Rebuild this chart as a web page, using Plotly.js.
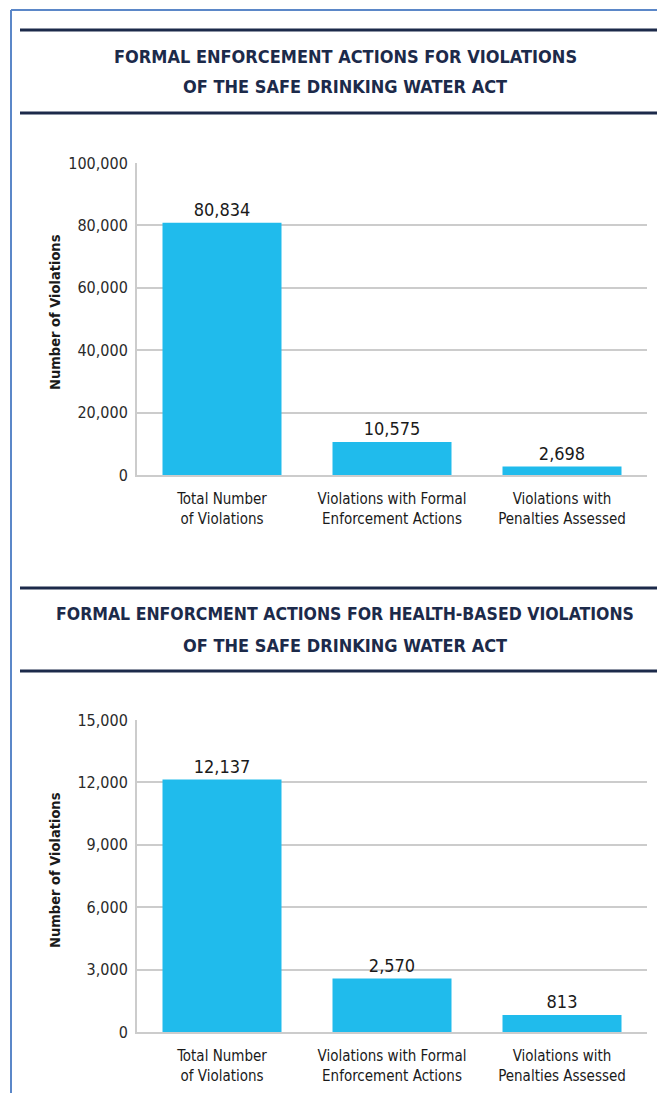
<!DOCTYPE html>
<html><head><meta charset="utf-8">
<script src="https://cdn.plot.ly/plotly-3.0.1.min.js"></script>
<style>html,body{margin:0;padding:0;background:#fff}#c{width:657px;height:1093px}</style>
</head><body><div id="c"></div>
<script>
const categories = ["Total Number<br>of Violations", "Violations with Formal<br>Enforcement Actions", "Violations with<br>Penalties Assessed"];
const allValues = [80834, 10575, 2698];
const healthValues = [12137, 2570, 813];
const allTicks = [0, 20000, 40000, 60000, 80000, 100000];
const healthTicks = [0, 3000, 6000, 9000, 12000, 15000];
const title1 = ["FORMAL ENFORCEMENT ACTIONS FOR VIOLATIONS", "OF THE SAFE DRINKING WATER ACT"];
const title2 = ["FORMAL ENFORCMENT ACTIONS FOR HEALTH-BASED VIOLATIONS", "OF THE SAFE DRINKING WATER ACT"];
const yTitle = "Number of Violations";

const FONT = "'DejaVu Sans Condensed', 'Liberation Sans Narrow', Arial, sans-serif";
const H = 1093, W = 657;
const py = p => 1 - p / H;
const px = p => p / W;
const fmt = v => v.toLocaleString('en-US');

const barColor = '#20bbec';
function bar(vals, xa, ya) {
  return {type: 'bar', x: categories, y: vals, xaxis: xa, yaxis: ya,
    marker: {color: barColor}, width: 0.7,
    text: vals.map(fmt), textposition: 'outside', cliponaxis: false,
    textfont: {family: FONT, size: 18, color: '#1a1a1a'}, hoverinfo: 'none'};
}
function yax(ticks, top, bottom, anchor) {
  return {domain: [py(bottom), py(top)], range: [0, ticks[ticks.length - 1]], anchor: anchor,
    tickvals: ticks, ticktext: ticks.map(fmt), showgrid: true, gridcolor: '#cccccc', gridwidth: 2,
    zeroline: false, showline: true, linecolor: '#cccccc', linewidth: 2,
    ticks: '', ticklen: 0, ticklabelstandoff: 4, tickfont: {family: FONT, size: 16, color: '#2a2a2a'},
    fixedrange: true};
}
function xax(anchor) {
  return {domain: [px(137), px(647)], anchor: anchor, showline: true, linecolor: '#cccccc', linewidth: 2,
    ticks: '', ticklabelstandoff: 9, tickfont: {family: FONT, size: 15, color: '#1a1a1a'}, fixedrange: true, automargin: false};
}

const navy = '#1c2a4a';
const border = '#5b87c8';
function hline(y) {
  return {type: 'line', xref: 'paper', yref: 'paper', x0: px(20), x1: 1, y0: py(y), y1: py(y), line: {color: navy, width: 3}};
}
const shapes = [
  {type: 'line', xref: 'paper', yref: 'paper', x0: px(11), x1: 1, y0: py(10), y1: py(10), line: {color: border, width: 2}},
  {type: 'line', xref: 'paper', yref: 'paper', x0: px(11), x1: px(11), y0: py(10), y1: 0, line: {color: border, width: 2}},
  hline(30), hline(113), hline(588), hline(671)
];
function titleAnn(text, y) {
  return {text: '<b>' + text + '</b>', xref: 'paper', yref: 'paper', x: px(345), y: py(y), showarrow: false,
   font: {family: FONT, size: 18, color: navy}, xanchor: 'center', yanchor: 'middle'};
}
function yTitleAnn(y) {
  return {text: '<b>' + yTitle + '</b>', xref: 'paper', yref: 'paper', x: px(55), y: py(y), showarrow: false,
   textangle: -90, font: {family: FONT, size: 14.5, color: '#1a1a1a'}, xanchor: 'center', yanchor: 'middle'};
}
const annotations = [
  titleAnn(title1[0], 56), titleAnn(title1[1], 87),
  titleAnn(title2[0], 614), titleAnn(title2[1], 645),
  yTitleAnn(312), yTitleAnn(870)
];
annotations[2].font = Object.assign({}, annotations[2].font, {size: 17.5});

const data = [bar(allValues, 'x', 'y'), bar(healthValues, 'x2', 'y2')];
const layout = {
  width: W, height: H, margin: {l: 0, r: 0, t: 0, b: 0},
  paper_bgcolor: '#fff', plot_bgcolor: '#fff', showlegend: false, bargap: 0.3,
  font: {family: FONT},
  xaxis: xax('y'), yaxis: yax(allTicks, 163, 475, 'x'),
  xaxis2: xax('y2'), yaxis2: yax(healthTicks, 720, 1032, 'x2'),
  shapes: shapes, annotations: annotations
};
Plotly.newPlot('c', data, layout, {displayModeBar: false, staticPlot: true});
</script></body></html>
